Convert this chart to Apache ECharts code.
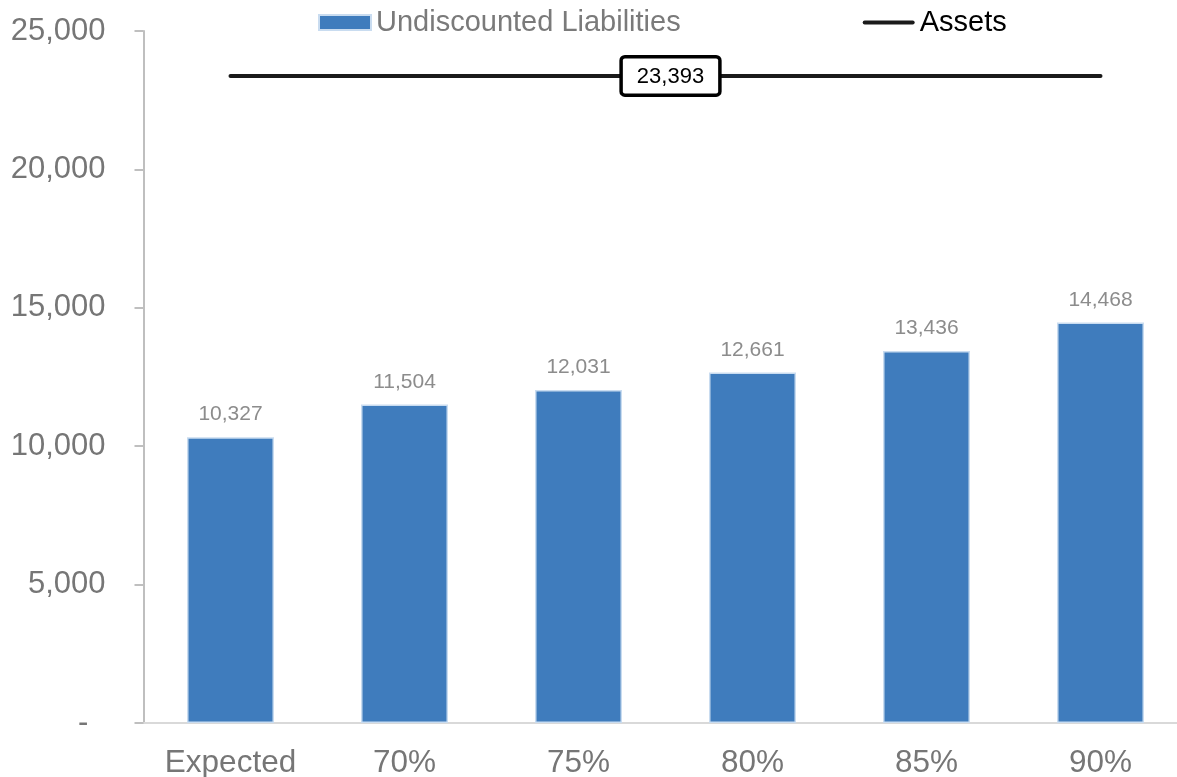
<!DOCTYPE html>
<html>
<head>
<meta charset="utf-8">
<script src="https://cdn.jsdelivr.net/npm/echarts@6/dist/echarts.min.js"></script>
<style>
  html, body { margin: 0; padding: 0; background: #fff; }
  #chart { width: 1177px; height: 777px; }
</style>
</head>
<body>
<div id="chart"></div>
<script>
// Scenario categories and values
const categories = ['Expected', '70%', '75%', '80%', '85%', '90%'];
const liabilities = [10327, 11504, 12031, 12661, 13436, 14468];
const assetsValue = 23393;
const assets = categories.map(() => assetsValue);
const yTicks = [0, 5000, 10000, 15000, 20000, 25000];

const fmt = v => v.toLocaleString('en-US');
// Accounting style: zero shows as a dash set in from the right edge
const fmtAxis = v => v === 0 ? '-  ' : fmt(v);
const FONT = '"Liberation Sans", Arial, sans-serif';

const chart = echarts.init(document.getElementById('chart'));
chart.setOption({
  animation: false,
  textStyle: { fontFamily: FONT },
  grid: { left: 143.5, width: 1044, top: 31, bottom: 54, outerBoundsMode: 'none', containLabel: false },
  legend: {
    top: 3,
    left: 313,
    itemWidth: 52,
    itemHeight: 15,
    itemGap: 182,
    textStyle: { fontFamily: FONT, fontSize: 29 },
    data: [
      { name: 'Undiscounted Liabilities', icon: 'rect', textStyle: { color: '#7a7a7a' } },
      { name: 'Assets', icon: 'path://M2,0 L50,0 A2,2 0 0 1 50,4 L2,4 A2,2 0 0 1 2,0 Z',
        itemStyle: { color: '#1a1a1a' }, textStyle: { color: '#000' } }
    ]
  },
  xAxis: {
    type: 'category',
    data: categories,
    axisLine: { lineStyle: { color: '#D9D9D9', width: 2 } },
    axisTick: { show: false },
    axisLabel: { color: '#767676', fontSize: 31.5, margin: 24, fontFamily: FONT }
  },
  yAxis: {
    type: 'value',
    min: yTicks[0],
    max: yTicks[yTicks.length - 1],
    interval: 5000,
    splitLine: { show: false },
    axisLine: { show: true, lineStyle: { color: '#BFBFBF', width: 2 } },
    axisTick: { show: true, length: 9, lineStyle: { color: '#BFBFBF', width: 2 } },
    axisLabel: { color: '#767676', fontSize: 31, margin: 38, fontFamily: FONT, formatter: fmtAxis }
  },
  series: [
    {
      name: 'Undiscounted Liabilities',
      type: 'bar',
      data: liabilities,
      barWidth: '50%',
      itemStyle: { color: '#3F7CBD', borderColor: '#C9DCF0', borderWidth: 1.5 },
      label: {
        show: true,
        position: 'top',
        distance: 12,
        color: '#8c8c8c',
        fontSize: 21,
        fontFamily: FONT,
        formatter: p => fmt(p.value)
      }
    },
    {
      // Assets level: the series carries the values, the marker line draws the
      // visible stroke so its value box sits on top of it.
      name: 'Assets',
      type: 'line',
      data: assets,
      symbol: 'none',
      lineStyle: { color: '#1a1a1a', width: 4, opacity: 0 },
      itemStyle: { color: '#1a1a1a' },
      z: 5,
      markLine: {
        silent: true,
        symbol: 'none',
        lineStyle: { color: '#1a1a1a', width: 4, type: 'solid', cap: 'round' },
        label: {
          show: true,
          position: 'middle',
          formatter: () => fmt(assetsValue),
          color: '#000',
          fontSize: 22,
          fontFamily: FONT,
          backgroundColor: '#fff',
          borderColor: '#000',
          borderWidth: 3.5,
          borderRadius: 2,
          padding: [7, 14, 6, 14],
          distance: 0,
          offset: [5, 18]
        },
        data: [[{ coord: [0, assetsValue] }, { coord: [categories.length - 1, assetsValue] }]]
      }
    }
  ]
});
</script>
</body>
</html>
